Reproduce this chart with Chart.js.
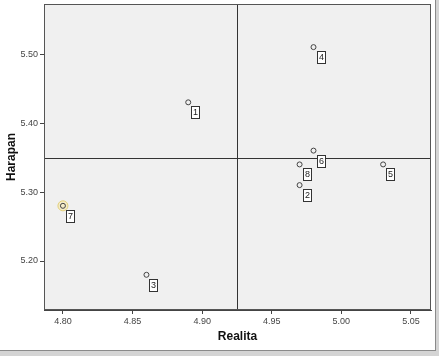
<!DOCTYPE html>
<html lang="en">
<head>
    <meta charset="UTF-8" />
    <title>Realita vs Harapan</title>
    <style>
        body { margin: 0; background: #d4d4d4; }
        .wrap { position: relative; width: 439px; height: 356px; }
        .panel { position: absolute; left: 0; top: 0; width: 435px; height: 350px;
                 background: #fff; border-right: 1px solid #8a8a8a; border-bottom: 1px solid #8a8a8a; }
        #chart { position: absolute; left: 0; top: 0; }
    </style>
</head>
<body>
    <div class="wrap">
        <div class="panel"></div>
        <canvas id="chart" width="439" height="356"></canvas>
    </div>

    <script src="https://cdn.jsdelivr.net/npm/chart.js@4/dist/chart.umd.min.js"></script>
    <script>
        // case numbers and their scores
        const caseIds  = ['1', '2', '3', '4', '5', '6', '7', '8'];
        const realita  = [4.89, 4.97, 4.86, 4.98, 5.03, 4.98, 4.80, 4.97];
        const harapan  = [5.43, 5.31, 5.18, 5.51, 5.34, 5.36, 5.28, 5.34];
        const xTicks = [4.80, 4.85, 4.90, 4.95, 5.00, 5.05];
        const yTicks = [5.20, 5.30, 5.40, 5.50];
        // reference lines (means)
        const refX = 4.925;
        const refY = 5.35;
        const highlighted = 6; // case 7 is selected

        const points = realita.map((x, i) => ({ x: x, y: harapan[i] }));

        const quadrantPlugin = {
            id: 'quadrant',
            beforeDatasetsDraw(chart) {
                const { ctx, chartArea: a, scales } = chart;
                const px = Math.round(scales.x.getPixelForValue(refX)) + 0.5;
                const py = Math.round(scales.y.getPixelForValue(refY)) + 0.5;
                ctx.save();
                ctx.strokeStyle = '#333';
                ctx.lineWidth = 1;
                ctx.beginPath();
                ctx.moveTo(px, a.top); ctx.lineTo(px, a.bottom);
                ctx.moveTo(a.left, py); ctx.lineTo(a.right, py);
                ctx.stroke();
                // halo for the selected case
                const el = chart.getDatasetMeta(0).data[highlighted];
                ctx.beginPath();
                ctx.arc(el.x, el.y, 5, 0, Math.PI * 2);
                ctx.fillStyle = '#f5ecc8';
                ctx.fill();
                ctx.strokeStyle = '#e2cf7a';
                ctx.stroke();
                ctx.restore();
            },
            afterDatasetsDraw(chart) {
                const { ctx } = chart;
                ctx.save();
                ctx.font = '9px "Liberation Sans", Arial, sans-serif';
                ctx.textAlign = 'center';
                ctx.textBaseline = 'middle';
                chart.getDatasetMeta(0).data.forEach((el, i) => {
                    const bx = Math.round(el.x) + 3.5;
                    const by = Math.round(el.y) + 4.5;
                    ctx.fillStyle = '#fff';
                    ctx.fillRect(bx, by, 8, 12);
                    ctx.strokeStyle = '#333';
                    ctx.lineWidth = 1;
                    ctx.strokeRect(bx, by, 8, 12);
                    ctx.fillStyle = '#222';
                    ctx.fillText(caseIds[i], bx + 4, by + 6.5);
                });
                ctx.restore();
            }
        };

        const plotBg = {
            id: 'plotBg',
            beforeDraw(chart) {
                const { ctx, chartArea: a } = chart;
                ctx.save();
                ctx.fillStyle = '#f0f0f0';
                ctx.fillRect(a.left, a.top, a.right - a.left, a.bottom - a.top);
                ctx.restore();
            },
            afterDraw(chart) {
                const { ctx, chartArea: a } = chart;
                ctx.save();
                ctx.strokeStyle = '#555';
                ctx.lineWidth = 1;
                ctx.strokeRect(a.left + 0.5, a.top + 0.5, a.right - a.left - 1, a.bottom - a.top - 1);
                ctx.restore();
            }
        };

        new Chart(document.getElementById('chart'), {
            type: 'scatter',
            data: {
                datasets: [{
                    data: points,
                    pointRadius: 2.5,
                    pointBorderWidth: 1,
                    pointBorderColor: '#444',
                    pointBackgroundColor: 'rgba(0,0,0,0)',
                    pointHoverRadius: 2.5
                }]
            },
            options: {
                responsive: false,
                animation: false,
                events: [],
                layout: { padding: { top: 4, right: 8, left: 0, bottom: 0 } },
                plugins: { legend: { display: false }, tooltip: { enabled: false } },
                scales: {
                    x: {
                        type: 'linear',
                        min: 4.7864,
                        max: 5.0644,
                        afterFit: (s) => { s.height = 46; s.paddingLeft = 0; s.paddingRight = 0; },
                        afterBuildTicks: (s) => { s.ticks = xTicks.map(v => ({ value: v })); },
                        ticks: { font: { size: 9, family: '"Liberation Sans", Arial' }, color: '#444',
                                 padding: 2, callback: (v) => v.toFixed(2) },
                        grid: { drawOnChartArea: false, tickLength: 4, color: '#444' },
                        border: { color: '#444' },
                        title: { display: true, text: 'Realita', color: '#111', padding: { top: 0, bottom: 12 },
                                 font: { size: 12, weight: 'bold', family: '"Liberation Sans", Arial' } }
                    },
                    y: {
                        type: 'linear',
                        min: 5.129,
                        max: 5.5725,
                        afterFit: (s) => { s.width = 44; s.paddingTop = 0; s.paddingBottom = 0; },
                        afterBuildTicks: (s) => { s.ticks = yTicks.map(v => ({ value: v })); },
                        ticks: { font: { size: 9, family: '"Liberation Sans", Arial' }, color: '#444',
                                 padding: 2, callback: (v) => v.toFixed(2) },
                        grid: { drawOnChartArea: false, tickLength: 4, color: '#444' },
                        border: { color: '#444' },
                        title: { display: true, text: 'Harapan', color: '#111', padding: { top: 4, bottom: 0 },
                                 font: { size: 12, weight: 'bold', family: '"Liberation Sans", Arial' } }
                    }
                }
            },
            plugins: [plotBg, quadrantPlugin]
        });
    </script>
</body>
</html>
